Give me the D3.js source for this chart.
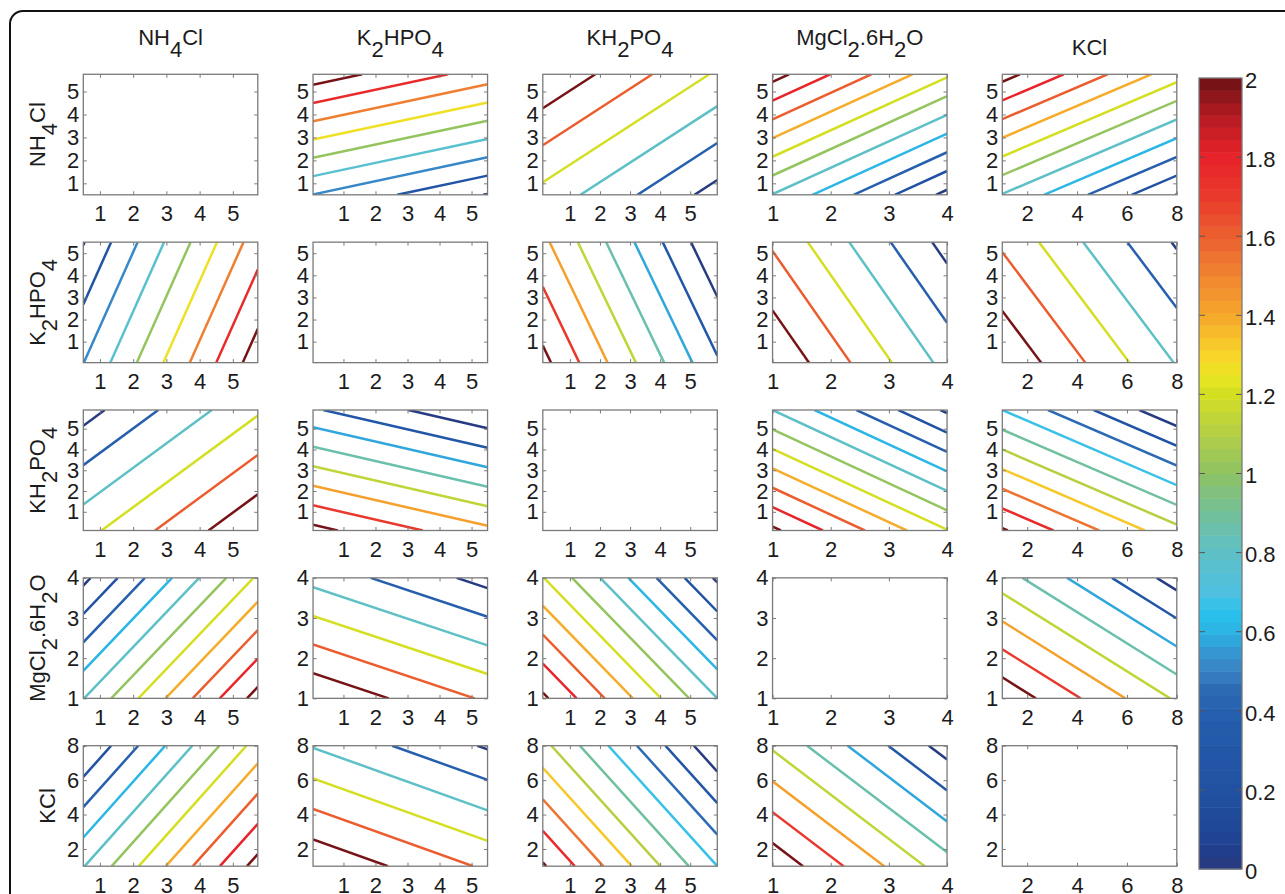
<!DOCTYPE html>
<html>
<head>
<meta charset="utf-8">
<script src="https://cdn.jsdelivr.net/npm/d3@7"></script>
<style>
body { margin: 0; background: #fff; }
svg text { font-family: "Liberation Sans", Arial, sans-serif; fill: #1c1c1c; }
</style>
</head>
<body>
<div id="main"></div>
<script>
// factors (TeX-like: _x = subscript), their plotted ranges and ticks
const FACTORS = ["NH_4Cl", "K_2HPO_4", "KH_2PO_4", "MgCl_2.6H_2O", "KCl"];
const DOMAINS = [[0.5, 5.75], [0.05, 5.5], [0.1, 5.9], [1, 4], [1, 8]];
const TICKS = [[1, 2, 3, 4, 5], [1, 2, 3, 4, 5], [1, 2, 3, 4, 5], [1, 2, 3, 4], [2, 4, 6, 8]];

// response for each pair of factors, in contour-level units,
// read at (low, low), (high first, low second), (low first, high second)
const PAIRS = [[0, 1], [0, 2], [0, 3], [0, 4], [1, 2], [1, 3], [1, 4], [2, 3], [2, 4], [3, 4]];
const LEVEL_LOW_LOW = [1.98, 2.66, 3.97, 3.95, 7.29, 5.88, 5.88, 10.2, 9.12, 7.75];
const LEVEL_HIGH_FIRST = [8.57, 5.92, 10.4, 10.4, 5.24, 3.85, 3.83, 4.0, 3.0, 3.45];
const LEVEL_HIGH_SECOND = [-0.05, -0.4, -0.27, -0.03, 1.12, 1.67, 1.93, 6.04, 5.3, 3.85];
const LEVEL_COUNT = [9, 6, 11, 11, 8, 6, 6, 11, 10, 8];

// colorbar
const CBAR_DOMAIN = [0, 2];
const CBAR_TICKS = [0, 0.2, 0.4, 0.6, 0.8, 1, 1.2, 1.4, 1.6, 1.8, 2];
const CMAP_VALUES = [0, 0.05, 0.1, 0.2, 0.3, 0.4, 0.45, 0.5, 0.55, 0.6, 0.65, 0.7, 0.8, 0.9, 1,
    1.1, 1.2, 1.25, 1.3, 1.4, 1.5, 1.6, 1.7, 1.8, 1.9, 2];
const CMAP_COLORS = ["#283a7c", "#213e8e", "#1f4797", "#2152a2", "#2257a8", "#2660ad", "#2b6ab3",
    "#3a80c3", "#3598d2", "#2cb3e3", "#28c2ee", "#4fc0e0", "#5ec0c6", "#72c09a", "#8ec263",
    "#b3cf45", "#d4de22", "#ebe624", "#f8d429", "#f6a82b", "#f18431", "#eb5f2e", "#e93a2d",
    "#e82229", "#b81b22", "#6b1214"];

const ctx = {
    w: 1285,
    h: 894,
    left0: 83.3,
    top0: 74.3,
    colStep: 229.75,
    rowStep: 167.85,
    pw: 174.5,
    ph: 120.5,
    tick: 3.5,
    fontSize: 22,
    subShift: 12,
    nBands: 64,
    axisColor: "#7a7a7a",
    cbar: { x: 1199, y: 78, w: 43, h: 791 },
};

const cmap = d3.scaleLinear().domain(CMAP_VALUES).range(CMAP_COLORS);
const fmt = d3.format("~g");

function bandColor(t) {
    // t in [0,1] -> quantized colormap (64 bands) over CBAR_DOMAIN
    let band = Math.min(ctx.nBands - 1, Math.max(0, Math.floor(t * ctx.nBands)));
    let v = CBAR_DOMAIN[0] + (band + 0.5) / ctx.nBands * (CBAR_DOMAIN[1] - CBAR_DOMAIN[0]);
    return cmap(v);
}

function addTeX(textSel, str) {
    let shift = 0;
    str.split(/(_.)/).filter((s) => s.length > 0).forEach((seg) => {
        if (seg.startsWith("_")) {
            textSel.append("tspan").attr("dy", ctx.subShift - shift).text(seg.slice(1));
            shift = ctx.subShift;
        } else {
            textSel.append("tspan").attr("dy", -shift).text(seg);
            shift = 0;
        }
    });
}

// end points (normalized) of the isoline f = level inside the unit square
function isoSegment(A, ax, ay, level) {
    let pts = [];
    if (ay !== 0) {
        pts.push([0, (level - A) / ay]);
        pts.push([1, (level - A - ax) / ay]);
    }
    if (ax !== 0) {
        pts.push([(level - A) / ax, 0]);
        pts.push([(level - A - ay) / ax, 1]);
    }
    let eps = 1e-9;
    pts = pts.filter((p) => p[0] >= -eps && p[0] <= 1 + eps && p[1] >= -eps && p[1] <= 1 + eps);
    let uniq = [];
    pts.forEach((p) => {
        if (!uniq.some((q) => Math.abs(q[0] - p[0]) < 1e-6 && Math.abs(q[1] - p[1]) < 1e-6)) uniq.push(p);
    });
    return uniq.length >= 2 ? uniq.slice(0, 2) : null;
}

function drawPanel(svgEl, r, c) {
    let x0 = ctx.left0 + c * ctx.colStep;
    let y0 = ctx.top0 + r * ctx.rowStep;
    let xScale = d3.scaleLinear().domain(DOMAINS[c]).range([0, ctx.pw]);
    let yScale = d3.scaleLinear().domain(DOMAINS[r]).range([ctx.ph, 0]);

    let g = svgEl.append("g").attr("transform", `translate(${x0},${y0})`);
    g.append("rect").attr("width", ctx.pw).attr("height", ctx.ph).attr("fill", "#fff");

    let clipId = `clip-${r}-${c}`;
    svgEl.select("defs").append("clipPath").attr("id", clipId)
        .append("rect").attr("width", ctx.pw).attr("height", ctx.ph);

    if (r !== c) {
        let i = Math.min(r, c), j = Math.max(r, c);
        let p = PAIRS.findIndex((d) => d[0] === i && d[1] === j);
        let A = LEVEL_LOW_LOW[p];
        let gi = LEVEL_HIGH_FIRST[p] - A;
        let gj = LEVEL_HIGH_SECOND[p] - A;
        // x is factor c, y is factor r
        let ax = (c === i) ? gi : gj;
        let ay = (r === i) ? gi : gj;
        let n = LEVEL_COUNT[p];
        let toData = (s, dom) => dom[0] + s * (dom[1] - dom[0]);
        let lines = d3.range(n).map((k) => {
            let seg = isoSegment(A, ax, ay, k);
            if (!seg) return null;
            return {
                level: k,
                pts: seg.map((q) => [toData(q[0], DOMAINS[c]), toData(q[1], DOMAINS[r])]),
            };
        }).filter((d) => d !== null);

        let line = d3.line().x((d) => xScale(d[0])).y((d) => yScale(d[1]));
        g.append("g").attr("clip-path", `url(#${clipId})`)
            .selectAll("path")
            .data(lines)
            .enter()
            .append("path")
            .attr("d", (d) => line(d.pts))
            .attr("fill", "none")
            .attr("stroke", (d) => bandColor(d.level / (n - 1)))
            .attr("stroke-width", 2.5);
    }

    let styleAxis = (sel) => {
        sel.select(".domain").remove();
        sel.selectAll(".tick line").attr("stroke", ctx.axisColor).attr("stroke-width", 1);
        sel.selectAll(".tick text").attr("fill", "#1c1c1c").attr("font-size", ctx.fontSize)
            .attr("font-family", null);
    };

    g.append("g").attr("transform", `translate(0,${ctx.ph})`)
        .call(d3.axisBottom(xScale).tickValues(TICKS[c]).tickFormat(fmt)
            .tickSizeInner(-ctx.tick).tickSizeOuter(0).tickPadding(11))
        .call(styleAxis);
    g.append("g")
        .call(d3.axisTop(xScale).tickValues(TICKS[c]).tickSizeInner(-ctx.tick).tickSizeOuter(0).tickFormat(""))
        .call(styleAxis);
    g.append("g")
        .call(d3.axisLeft(yScale).tickValues(TICKS[r]).tickFormat(fmt)
            .tickSizeInner(-ctx.tick).tickSizeOuter(0).tickPadding(4))
        .call(styleAxis);
    g.append("g").attr("transform", `translate(${ctx.pw},0)`)
        .call(d3.axisRight(yScale).tickValues(TICKS[r]).tickSizeInner(-ctx.tick).tickSizeOuter(0).tickFormat(""))
        .call(styleAxis);

    g.append("rect").attr("width", ctx.pw).attr("height", ctx.ph)
        .attr("fill", "none").attr("stroke", ctx.axisColor).attr("stroke-width", 1.3);
}

function drawLabels(svgEl) {
    FACTORS.forEach((f, k) => {
        let hasSub = f.includes("_");
        let cx = ctx.left0 + k * ctx.colStep + ctx.pw / 2;
        let title = svgEl.append("text")
            .attr("x", cx)
            .attr("y", hasSub ? 45 : 55)
            .attr("text-anchor", "middle")
            .attr("font-size", ctx.fontSize);
        addTeX(title, f);

        let cy = ctx.top0 + k * ctx.rowStep + ctx.ph / 2;
        let rowLabel = svgEl.append("text")
            .attr("transform", `translate(${hasSub ? 45 : 55},${cy}) rotate(-90)`)
            .attr("text-anchor", "middle")
            .attr("font-size", ctx.fontSize);
        addTeX(rowLabel, f);
    });
}

function drawColorbar(svgEl) {
    let cb = ctx.cbar;
    let yScale = d3.scaleLinear().domain(CBAR_DOMAIN).range([cb.y + cb.h, cb.y]);
    let step = (CBAR_DOMAIN[1] - CBAR_DOMAIN[0]) / ctx.nBands;
    let bands = d3.range(ctx.nBands).map((b) => CBAR_DOMAIN[0] + b * step);

    let g = svgEl.append("g").attr("id", "colorbar");
    g.selectAll("rect.band")
        .data(bands)
        .enter()
        .append("rect")
        .attr("class", "band")
        .attr("x", cb.x)
        .attr("y", (d) => yScale(d + step))
        .attr("width", cb.w)
        .attr("height", (d) => yScale(d) - yScale(d + step) + 0.5)
        .attr("fill", (d) => cmap(d + step / 2));

    let inner = CBAR_TICKS.filter((v) => v > CBAR_DOMAIN[0] && v < CBAR_DOMAIN[1]);
    g.selectAll("line.tl")
        .data(inner)
        .enter()
        .append("line")
        .attr("x1", cb.x).attr("x2", cb.x + 6)
        .attr("y1", (d) => yScale(d)).attr("y2", (d) => yScale(d))
        .attr("stroke", "#555").attr("stroke-width", 1);
    g.selectAll("line.tr")
        .data(inner)
        .enter()
        .append("line")
        .attr("x1", cb.x + cb.w - 6).attr("x2", cb.x + cb.w)
        .attr("y1", (d) => yScale(d)).attr("y2", (d) => yScale(d))
        .attr("stroke", "#555").attr("stroke-width", 1);

    g.append("rect")
        .attr("x", cb.x).attr("y", cb.y).attr("width", cb.w).attr("height", cb.h)
        .attr("fill", "none").attr("stroke", ctx.axisColor).attr("stroke-width", 1.3);

    g.selectAll("text")
        .data(CBAR_TICKS)
        .enter()
        .append("text")
        .attr("x", cb.x + cb.w + 3)
        .attr("y", (d) => yScale(d) + 2)
        .attr("dy", "0.35em")
        .attr("font-size", ctx.fontSize)
        .text((d) => fmt(d));
}

function createViz() {
    let svgEl = d3.select("#main").append("svg")
        .attr("width", ctx.w)
        .attr("height", ctx.h);
    svgEl.append("defs");
    svgEl.append("rect").attr("width", ctx.w).attr("height", ctx.h).attr("fill", "#fff");
    svgEl.append("rect")
        .attr("x", 10).attr("y", 11).attr("width", 1400).attr("height", 1000).attr("rx", 13)
        .attr("fill", "none").attr("stroke", "#111").attr("stroke-width", 2);

    for (let r = 0; r < FACTORS.length; r++) {
        for (let c = 0; c < FACTORS.length; c++) {
            drawPanel(svgEl, r, c);
        }
    }
    drawLabels(svgEl);
    drawColorbar(svgEl);
}

createViz();
</script>
</body>
</html>
